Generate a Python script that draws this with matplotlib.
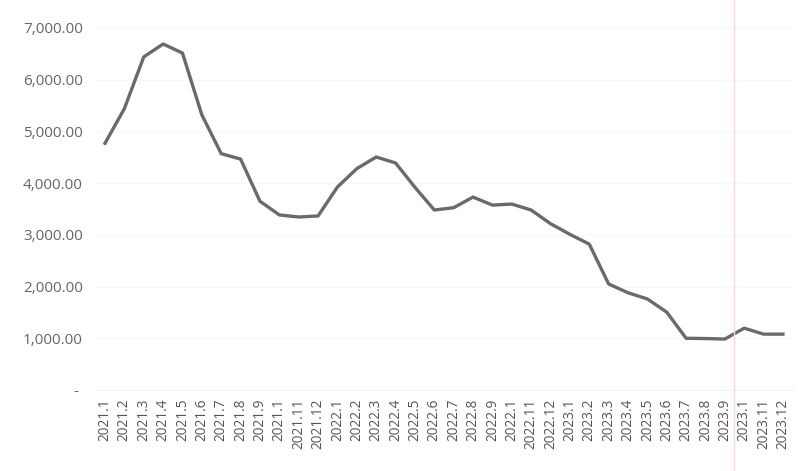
import matplotlib
matplotlib.use("Agg")
import matplotlib.pyplot as plt
from matplotlib.ticker import FuncFormatter

# month labels as they appear (Excel dropped the trailing 0 of .10)
months = ["2021.1", "2021.2", "2021.3", "2021.4", "2021.5", "2021.6",
          "2021.7", "2021.8", "2021.9", "2021.1", "2021.11", "2021.12",
          "2022.1", "2022.2", "2022.3", "2022.4", "2022.5", "2022.6",
          "2022.7", "2022.8", "2022.9", "2022.1", "2022.11", "2022.12",
          "2023.1", "2023.2", "2023.3", "2023.4", "2023.5", "2023.6",
          "2023.7", "2023.8", "2023.9", "2023.1", "2023.11", "2023.12"]

values = [4770, 5440, 6440, 6690, 6515, 5320,
          4570, 4465, 3650, 3385, 3345, 3365,
          3925, 4280, 4505, 4390, 3920, 3480,
          3525, 3730, 3575, 3595, 3480, 3215,
          3010, 2820, 2050, 1880, 1760, 1505,
          1000, 995, 985, 1195, 1080, 1080]

yticks = [0, 1000, 2000, 3000, 4000, 5000, 6000, 7000]

plt.rcParams['font.family'] = ['Open Sans', 'DejaVu Sans']

fig = plt.figure(figsize=(8.09, 4.71), dpi=100)
ax = fig.add_axes([0.1178, 0.172, 0.862, 0.7686])

x = list(range(len(months)))
ax.plot(x, values, color='#6a6a6a', linewidth=2.4, solid_joinstyle='round')

ax.set_xlim(-0.5, len(months) - 0.5)
ax.set_ylim(0, 7000)
ax.set_yticks(yticks)
ax.yaxis.set_major_formatter(FuncFormatter(lambda v, p: '- ' if v == 0 else f'{v:,.2f}'))
ax.set_xticks(x)
ax.set_xticklabels(months, rotation=90)

ax.tick_params(axis='y', length=0, pad=9, labelsize=11, labelcolor='#666666')
ax.tick_params(axis='x', length=0, pad=6, labelsize=9.8, labelcolor='#555555')

for s in ['top', 'right', 'left']:
    ax.spines[s].set_visible(False)
ax.spines['bottom'].set_color('#f2f2f2')
ax.grid(axis='y', color='#f7f7f7', linewidth=0.8)
ax.set_axisbelow(True)

# faint pink scan line on the right side
fig.add_artist(plt.Line2D([734 / 809, 734 / 809], [0.0, 1.0], color='#f8d8de', linewidth=1.0))

fig.savefig('out.png', dpi=100)
